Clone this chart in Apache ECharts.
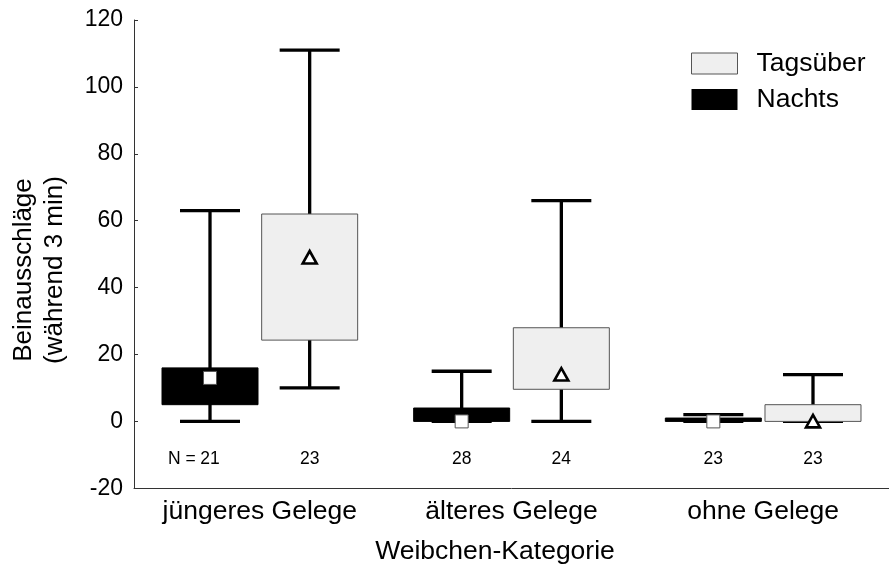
<!DOCTYPE html>
<html>
<head>
<meta charset="utf-8">
<script src="https://cdn.jsdelivr.net/npm/echarts@6/dist/echarts.min.js"></script>
<style>
  html, body { margin: 0; padding: 0; background: #fff; }
  #chart { width: 889px; height: 567px; }
</style>
</head>
<body>
<div id="chart"></div>
<script>
// Weibchen-Kategorien on the x axis
const categories = ['jüngeres Gelege', 'älteres Gelege', 'ohne Gelege'];

// Nachts: whisker ends, quartiles, median and sample size per category
const nightMin = [0, 0, 0];
const nightQ1 = [5, 0, 0];
const nightQ3 = [16, 4, 1];
const nightMax = [63, 15, 2];
const nightMedian = [13, 0, 0];
const nightN = [21, 28, 23];

// Tagsüber: same statistics
const dayMin = [10, 0, 0];
const dayQ1 = [24.3, 9.6, 0];
const dayQ3 = [62, 28, 5];
const dayMax = [111, 66, 14];
const dayMedian = [49, 14, 0];
const dayN = [23, 24, 23];

// y axis ticks
const yTicks = [-20, 0, 20, 40, 60, 80, 100, 120];

const FONT = "'Liberation Sans', Arial, sans-serif";
const BOX_WIDTH = 96;
const CAP_WIDTH = 60;
const BOX_OFFSET = 0.198;   // share of the category band between group centre and box centre
const N_LABEL_VALUE = -11.4; // y value where the sample sizes are written

function rows(min, q1, q3, max, med, n) {
  return categories.map((c, i) => [i, min[i], q1[i], q3[i], max[i], med[i], n[i]]);
}

function boxRenderer(side, look) {
  return function (params, api) {
    const cat = api.value(0);
    const band = api.size([1, 0])[0];
    const cx = api.coord([cat, 0])[0] + side * band * BOX_OFFSET;
    const y = (v) => api.coord([cat, v])[1];
    const yMin = y(api.value(1));
    const yQ1 = y(api.value(2));
    const yQ3 = y(api.value(3));
    const yMax = y(api.value(4));
    const yMid = y(api.value(5));
    const yN = y(N_LABEL_VALUE);
    const whisker = { stroke: '#000', lineWidth: 3.3, fill: null };

    const children = [
      { type: 'line', shape: { x1: cx, y1: yMax, x2: cx, y2: yMin }, style: whisker },
      { type: 'line', shape: { x1: cx - CAP_WIDTH / 2, y1: yMax, x2: cx + CAP_WIDTH / 2, y2: yMax }, style: whisker },
      { type: 'line', shape: { x1: cx - CAP_WIDTH / 2, y1: yMin, x2: cx + CAP_WIDTH / 2, y2: yMin }, style: whisker },
      {
        type: 'rect',
        shape: { x: cx - BOX_WIDTH / 2, y: Math.min(yQ1, yQ3), width: BOX_WIDTH, height: Math.max(Math.abs(yQ1 - yQ3), 1) },
        style: { fill: look.fill, stroke: look.stroke, lineWidth: 1 }
      }
    ];

    if (look.marker === 'square') {
      children.push({
        type: 'rect',
        shape: { x: cx - 6.5, y: yMid - 6.5, width: 13, height: 13 },
        style: { fill: '#fff', stroke: '#555', lineWidth: 1 }
      });
    } else {
      children.push({
        type: 'polygon',
        shape: { points: [[cx, yMid - 6.5], [cx + 7, yMid + 6], [cx - 7, yMid + 6]] },
        style: { fill: '#fff', stroke: '#000', lineWidth: 2.6, lineJoin: 'miter' }
      });
    }

    children.push({
      type: 'text',
      style: { x: cx, y: yN, text: String(api.value(6)), align: 'center', verticalAlign: 'middle', fontSize: 17.5, fontFamily: FONT, fill: '#000' }
    });
    if (side < 0 && params.dataIndex === 0) {
      children.push({
        type: 'text',
        style: { x: cx - 9.5, y: yN, text: 'N = ', align: 'right', verticalAlign: 'middle', fontSize: 17.5, fontFamily: FONT, fill: '#000' }
      });
    }
    return { type: 'group', children: children };
  };
}

const chart = echarts.init(document.getElementById('chart'), null, { renderer: 'canvas' });

chart.setOption({
  animation: false,
  backgroundColor: '#fff',
  grid: { left: 134, top: 20, right: -10, bottom: 78.7, containLabel: false },
  legend: {
    orient: 'vertical',
    left: 691,
    top: 50,
    padding: 0,
    itemWidth: 46,
    itemHeight: 21,
    itemGap: 9,
    selectedMode: false,
    textStyle: { fontSize: 26.5, fontFamily: FONT, color: '#000', padding: [0, 0, 0, 14] },
    data: [
      { name: 'Tagsüber', icon: 'rect', itemStyle: { color: '#efefef', borderColor: '#555', borderWidth: 1 } },
      { name: 'Nachts', icon: 'rect', itemStyle: { color: '#000', borderWidth: 0 } }
    ]
  },
  xAxis: {
    type: 'category',
    data: categories,
    boundaryGap: true,
    axisLine: { onZero: false, lineStyle: { color: '#333', width: 1 } },
    axisTick: { inside: true, length: 4, interval: 0, lineStyle: { color: '#333' } },
    axisLabel: { fontSize: 26.5, fontFamily: FONT, color: '#000', margin: 10, interval: 0 },
    splitLine: { show: false }
  },
  yAxis: {
    type: 'value',
    min: yTicks[0],
    max: yTicks[yTicks.length - 1],
    interval: yTicks[1] - yTicks[0],
    axisLine: { show: true, lineStyle: { color: '#333', width: 1 } },
    axisTick: { show: true, inside: true, length: 4, lineStyle: { color: '#333' } },
    axisLabel: { fontSize: 23, fontFamily: FONT, color: '#000', margin: 11 },
    splitLine: { show: false }
  },
  graphic: [
    {
      type: 'text',
      x: 39,
      y: 270,
      rotation: Math.PI / 2,
      style: {
        text: 'Beinausschläge\n(während 3 min)',
        align: 'center',
        verticalAlign: 'middle',
        fontSize: 26,
        lineHeight: 31,
        fontFamily: FONT,
        fill: '#000'
      }
    },
    {
      type: 'text',
      x: 495,
      y: 552,
      style: {
        text: 'Weibchen-Kategorie',
        align: 'center',
        verticalAlign: 'middle',
        fontSize: 26.5,
        fontFamily: FONT,
        fill: '#000'
      }
    }
  ],
  series: [
    {
      name: 'Nachts',
      type: 'custom',
      color: '#000',
      encode: { x: 0, y: [1, 2, 3, 4, 5] },
      data: rows(nightMin, nightQ1, nightQ3, nightMax, nightMedian, nightN),
      renderItem: boxRenderer(-1, { fill: '#000', stroke: '#000', marker: 'square' })
    },
    {
      name: 'Tagsüber',
      type: 'custom',
      color: '#efefef',
      encode: { x: 0, y: [1, 2, 3, 4, 5] },
      data: rows(dayMin, dayQ1, dayQ3, dayMax, dayMedian, dayN),
      renderItem: boxRenderer(1, { fill: '#efefef', stroke: '#555', marker: 'triangle' })
    }
  ]
});
</script>
</body>
</html>
